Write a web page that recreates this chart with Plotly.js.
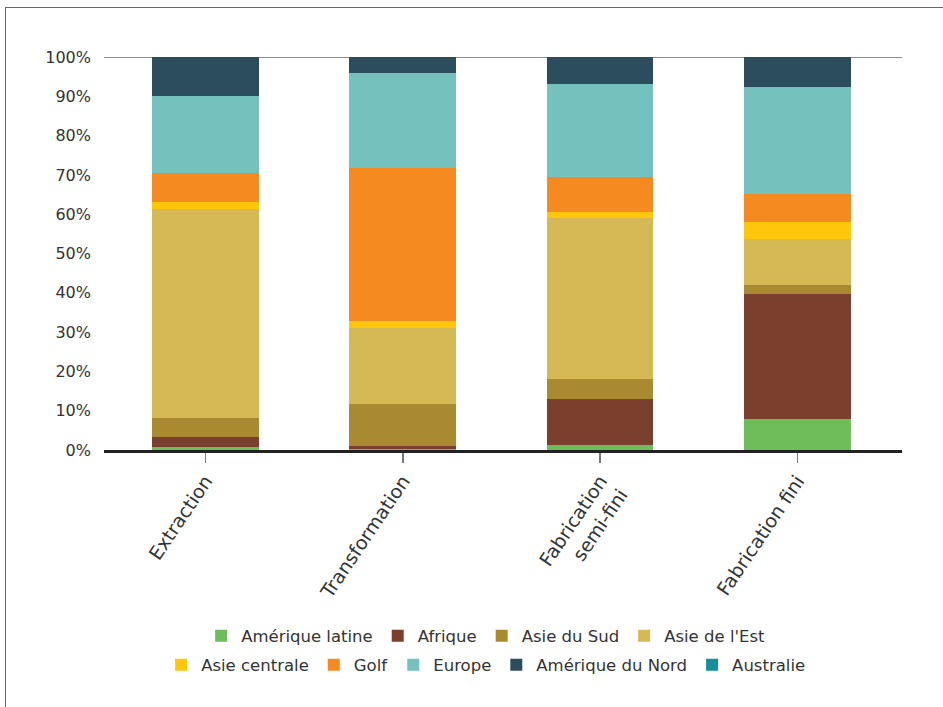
<!DOCTYPE html>
<html>
<head>
<meta charset="utf-8">
<script src="https://cdn.plot.ly/plotly-3.0.1.min.js"></script>
<style>
html,body{margin:0;padding:0;background:#fff;overflow:hidden;}
#wrap{position:relative;width:943px;height:707px;}
#chart{width:943px;height:707px;}
#frame{position:absolute;left:5px;top:7px;width:960px;height:720px;border-left:1.5px solid #666;border-top:1.5px solid #666;pointer-events:none;}
</style>
</head>
<body>
<div id="wrap"><div id="chart"></div><div id="frame"></div></div>
<script>
const categories = ["Extraction", "Transformation", "Fabrication<br>semi-fini", "Fabrication fini"];
const ameriqueLatine = [0.8, 0.2, 1.3, 7.9];
const afrique       = [2.5, 0.8, 11.7, 31.8];
const asieSud       = [4.8, 10.7, 5.1, 2.3];
const asieEst       = [53.2, 19.3, 40.9, 11.7];
const asieCentrale  = [1.8, 1.8, 1.6, 4.3];
const golf          = [7.4, 39.0, 8.9, 7.2];
const europe        = [19.6, 24.1, 23.6, 27.2];
const ameriqueNord  = [9.9, 4.1, 6.9, 7.6];
const australie     = [0, 0, 0, 0];
const yTicks = [0,10,20,30,40,50,60,70,80,90,100];
const yTickText = yTicks.map(v => v + "%");

const series = [
  {name:"Amérique latine", y:ameriqueLatine, color:"#6dbd5b", legend:"legend"},
  {name:"Afrique", y:afrique, color:"#7a3f2d", legend:"legend"},
  {name:"Asie du Sud", y:asieSud, color:"#aa8a30", legend:"legend"},
  {name:"Asie de l'Est", y:asieEst, color:"#d5b955", legend:"legend"},
  {name:"Asie centrale", y:asieCentrale, color:"#ffc60b", legend:"legend2"},
  {name:"Golf", y:golf, color:"#f58b20", legend:"legend2"},
  {name:"Europe", y:europe, color:"#74c1bd", legend:"legend2"},
  {name:"Amérique du Nord", y:ameriqueNord, color:"#2c4d5e", legend:"legend2"},
  {name:"Australie", y:australie, color:"#168e9c", legend:"legend2"}
];

const idx = categories.map((c,i)=>i);
const traces = series.map(s => ({
  type:"bar", x:idx, y:s.y, name:s.name, legend:s.legend,
  marker:{color:s.color, line:{width:0}}, hoverinfo:"name+y"
}));

const font = {family:"'DejaVu Sans', 'Noto Sans', sans-serif", color:"#333"};
const legendFont = Object.assign({}, font, {size:16.5});

const layout = {
  width:943, height:707,
  margin:{l:104, r:41, t:57, b:257},
  paper_bgcolor:"#fff", plot_bgcolor:"#fff",
  barmode:"stack", bargap:0.46,
  font:font,
  xaxis:{
    tickmode:"array", tickvals:idx, ticktext:categories,
    range:[-0.514, 3.53], tickangle:-56,
    tickfont:Object.assign({}, font, {size:19}),
    showline:true, linecolor:"#222", linewidth:2.5,
    ticks:"outside", ticklen:10, tickwidth:1.5, tickcolor:"#777",
    showgrid:false, zeroline:false, fixedrange:true
  },
  yaxis:{
    range:[0,100], tickmode:"array", tickvals:yTicks, ticktext:yTickText,
    tickfont:Object.assign({}, font, {size:16}),
    showgrid:false, zeroline:false, showline:false, ticks:"",
    ticklabelstandoff:12, fixedrange:true
  },
  shapes:[{type:"line", xref:"paper", x0:0, x1:1, yref:"y", y0:100, y1:100,
           line:{color:"#666", width:1.5}, layer:"below"}],
  showlegend:true,
  legend:{orientation:"h", xref:"container", yref:"container", x:0.515, y:0.1004,
          xanchor:"center", yanchor:"middle", font:legendFont, traceorder:"normal",
          itemclick:false, itemdoubleclick:false},
  legend2:{orientation:"h", xref:"container", yref:"container", x:0.515, y:0.0594,
          xanchor:"center", yanchor:"middle", font:legendFont, traceorder:"normal",
          itemclick:false, itemdoubleclick:false}
};

Plotly.newPlot("chart", traces, layout, {displayModeBar:false, staticPlot:true});
</script>
</body>
</html>
